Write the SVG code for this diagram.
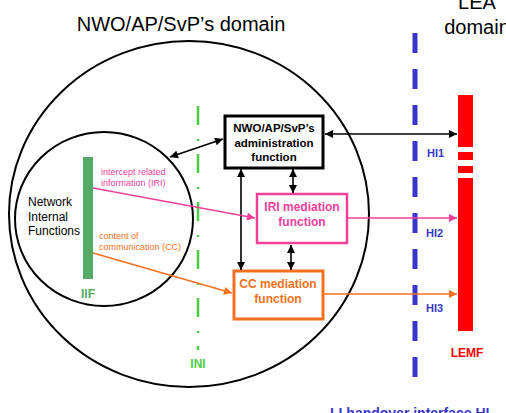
<svg xmlns="http://www.w3.org/2000/svg" width="506" height="413" viewBox="0 0 506 413">
<defs>
<style>
text{font-family:"Liberation Sans",Arial,sans-serif}
.b{font-weight:bold}
.blk{fill:#000}
.pk{fill:#f0409a}
.or{fill:#f47020}
.bl{fill:#3838c8}
.gr{fill:#55aa66}
.ini{fill:#4ccc44}
.rd{fill:#ff0000}
.arr{fill:none;stroke-width:1.6}
</style>
<marker id="ak" viewBox="0 0 10 10" refX="10" refY="5" markerWidth="10" markerHeight="8" markerUnits="userSpaceOnUse" orient="auto-start-reverse"><path d="M0,0 L10,5 L0,10 z" fill="#000"/></marker>
<marker id="ap" viewBox="0 0 10 10" refX="10" refY="5" markerWidth="10" markerHeight="8" markerUnits="userSpaceOnUse" orient="auto"><path d="M0,0 L10,5 L0,10 z" fill="#f0409a"/></marker>
<marker id="ao" viewBox="0 0 10 10" refX="10" refY="5" markerWidth="10" markerHeight="8" markerUnits="userSpaceOnUse" orient="auto"><path d="M0,0 L10,5 L0,10 z" fill="#f47020"/></marker>
</defs>
<rect width="506" height="413" fill="#fff"/>
<g id="domain">
<ellipse cx="189" cy="214" rx="180" ry="173" fill="none" stroke="#000" stroke-width="2"/>
<text x="181" y="31" font-size="20" text-anchor="middle" class="blk">NWO/AP/SvP’s domain</text>
</g>
<g id="lea-domain">
<text x="477" y="9" font-size="20" text-anchor="middle" class="blk">LEA</text>
<text x="477" y="34" font-size="20" text-anchor="middle" class="blk">domain</text>
</g>
<g id="network-internal">
<ellipse cx="104" cy="219" rx="89" ry="87" fill="none" stroke="#000" stroke-width="2"/>
<text font-size="12" class="blk" x="28" y="206">Network</text>
<text font-size="12" class="blk" x="28" y="221">Internal</text>
<text font-size="12" class="blk" x="28" y="235">Functions</text>
</g>
<g id="iif">
<rect x="83" y="157" width="10" height="122" fill="#55aa66"/>
<text x="88" y="298" font-size="12" class="b gr" text-anchor="middle">IIF</text>
</g>
<g id="ini">
<line x1="198" y1="106" x2="198" y2="350" stroke="#4ccc44" stroke-width="2.5" stroke-dasharray="19 14 2 13"/>
<text x="198" y="368" font-size="12" class="b ini" text-anchor="middle">INI</text>
</g>
<g id="hi-line">
<line x1="415" y1="33" x2="415" y2="378" stroke="#3838c8" stroke-width="5" stroke-dasharray="20 16"/>
<text x="427" y="157" font-size="11" class="b bl">HI1</text>
<text x="426" y="237" font-size="11" class="b bl">HI2</text>
<text x="426" y="312" font-size="11" class="b bl">HI3</text>
<text x="330" y="418" font-size="14" class="b bl">LI handover interface HI</text>
</g>
<g id="lemf">
<rect x="458" y="95" width="15" height="52" fill="#ff0000"/>
<rect x="458" y="152" width="15" height="8" fill="#ff0000"/>
<rect x="458" y="166" width="15" height="7" fill="#ff0000"/>
<rect x="458" y="178" width="15" height="153" fill="#ff0000"/>
<text x="467" y="357" font-size="12" class="b rd" text-anchor="middle">LEMF</text>
</g>
<g id="admin">
<rect x="225" y="116" width="98" height="52" fill="#fff" stroke="#000" stroke-width="3"/>
<text x="274" y="132" font-size="11.5" class="b blk" text-anchor="middle">NWO/AP/SvP’s</text>
<text x="274" y="147" font-size="11.5" class="b blk" text-anchor="middle">administration</text>
<text x="274" y="161" font-size="11.5" class="b blk" text-anchor="middle">function</text>
</g>
<g id="iri-mf">
<rect x="257" y="194" width="90" height="49" fill="#fff" stroke="#f0409a" stroke-width="2.5"/>
<text x="302" y="211" font-size="12" class="b pk" text-anchor="middle">IRI mediation</text>
<text x="302" y="226" font-size="12" class="b pk" text-anchor="middle">function</text>
</g>
<g id="cc-mf">
<rect x="234" y="271" width="89" height="48" fill="#fff" stroke="#f47020" stroke-width="3"/>
<text x="278" y="288" font-size="12" class="b or" text-anchor="middle">CC mediation</text>
<text x="278" y="303" font-size="12" class="b or" text-anchor="middle">function</text>
</g>
<g id="labels">
<text x="101" y="175" font-size="9" class="pk">intercept related</text>
<text x="101" y="186" font-size="9" class="pk">information (IRI)</text>
<text x="99" y="239" font-size="9" class="or">content of</text>
<text x="99" y="250" font-size="9" class="or">communication (CC)</text>
</g>
<g id="connectors">
<line class="arr" x1="170" y1="157" x2="223" y2="139" stroke="#000" marker-start="url(#ak)" marker-end="url(#ak)"/>
<line class="arr" x1="325" y1="134" x2="457" y2="134" stroke="#000" marker-start="url(#ak)" marker-end="url(#ak)"/>
<line class="arr" x1="241" y1="169" x2="241" y2="270" stroke="#000" marker-start="url(#ak)" marker-end="url(#ak)"/>
<line class="arr" x1="293" y1="169" x2="293" y2="193" stroke="#000" marker-start="url(#ak)" marker-end="url(#ak)"/>
<line class="arr" x1="291" y1="245" x2="291" y2="270" stroke="#000" marker-start="url(#ak)" marker-end="url(#ak)"/>
<line class="arr" x1="93" y1="188" x2="255" y2="218" stroke="#f0409a" marker-end="url(#ap)"/>
<line class="arr" x1="348" y1="218" x2="457" y2="218" stroke="#f0409a" marker-end="url(#ap)"/>
<line class="arr" x1="93" y1="253" x2="232" y2="293" stroke="#f47020" marker-end="url(#ao)"/>
<line class="arr" x1="324" y1="294" x2="457" y2="294" stroke="#f47020" marker-end="url(#ao)"/>
</g>
</svg>
